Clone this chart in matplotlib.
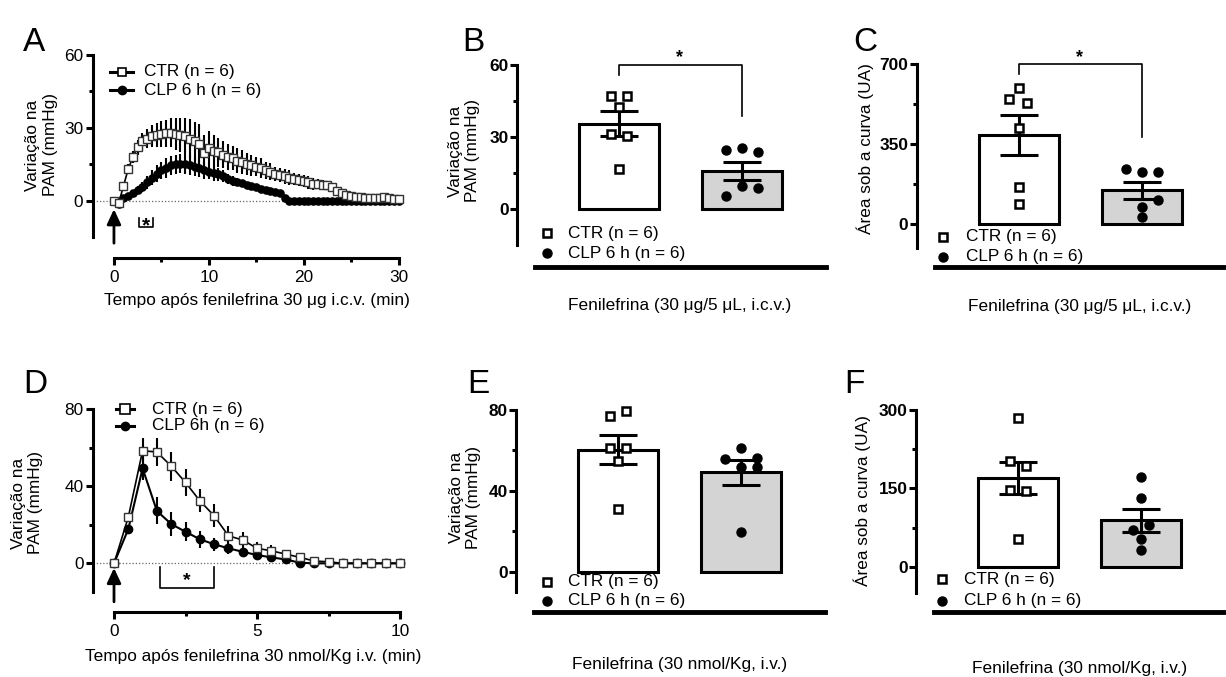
import numpy as np
import matplotlib
matplotlib.use("Agg")
import matplotlib.pyplot as plt
from matplotlib.lines import Line2D
from matplotlib.ticker import FixedLocator

W, H = 1226, 677

# ---- A: PAM change after fenilefrina 30 ug i.c.v. (sampled every 0.5 min)
time_a = np.arange(0, 30.5, 0.5)
ctr_a = [0, -1, 6, 13, 18, 22, 24.5, 25.5, 26.5, 27,
         27.5, 27.8, 28, 27.5, 27, 26.5, 25.5, 24.5, 23.5, 19.5,
         21.5, 20.5, 20, 19, 18, 17.5, 16.5, 16, 15, 14.5,
         14, 13.5, 12.5, 12, 11, 10.5, 10, 9.5, 9, 8.5,
         8, 7.5, 7, 7, 6.5, 6.5, 5.5, 4, 3, 2.5,
         2, 1.5, 1.5, 1, 1, 1, 1, 1.5, 1, 0.5, 0.5]
ctr_a_sem = [0, 0.5, 1, 2, 2.5, 3, 3.5, 4, 4.5, 5,
             5.5, 5.5, 6, 6.5, 7, 7.5, 8, 8, 8, 7.5,
             7, 6.5, 6, 5.5, 5.5, 5, 5, 5, 4.5, 4.5,
             4, 4, 3.5, 3.5, 3, 3, 3, 3, 2.5, 2.5,
             2.5, 2.5, 2.5, 2, 2, 1.5, 1, 1, 0.5, 0.5,
             0.5, 0.5, 0.5, 0.5, 0.5, 0.5, 0.5, 0.5, 0.5, 0.5, 0.5]
clp_a = [0, -1.5, 1, 2, 3, 4.5, 5.5, 7.5, 9.5, 11,
         12.5, 13.5, 14.5, 15, 15.3, 15, 14.7, 14, 13.3, 12.5,
         12, 11.3, 10.8, 10, 8.8, 8.2, 7.8, 7.2, 6.5, 6,
         5.5, 5, 4.5, 4, 3.5, 3, 1, 0, 0, 0,
         0, 0, 0, 0, 0, 0, 0, 0, 0, 0,
         0, 0, 0, 0, 0, 0, 0, 0, 0, 0, 0]
clp_a_sem = [0, 0.5, 0.5, 1, 1, 1.5, 2, 2.5, 3, 3.5,
             3.5, 4, 4, 4, 4, 4, 4, 4, 3.5, 3.5,
             3, 3, 2.5, 2.5, 2, 2, 1.5, 1.5, 1, 1,
             0.5, 0.5, 0.5, 0.5, 0.5, 0.5, 0, 0, 0, 0,
             0, 0, 0, 0, 0, 0, 0, 0, 0, 0,
             0, 0, 0, 0, 0, 0, 0, 0, 0, 0, 0]

# ---- D: PAM change after fenilefrina 30 nmol/Kg i.v.
time_d = np.arange(0, 10.5, 0.5)
ctr_d = [0, 24, 58.5, 57.8, 50.5, 42, 32.5, 24.7, 14.3, 12.1, 7.8,
         6.5, 4.8, 3.1, 1.2, 0.8, 0, 0, 0, 0, 0]
ctr_d_sem = [0, 1, 6.5, 7.5, 7.5, 7, 6, 6, 5, 4, 3.5,
             3, 2, 1.5, 1, 0.5, 0.5, 0.5, 0.5, 0.5, 0.5]
clp_d = [0, 17.8, 49.3, 27.2, 20.4, 16.4, 12.5, 9.9, 7.8, 6, 4.3,
         3.1, 2, 0.3, 0, 0, 0, 0, 0, 0, 0]
clp_d_sem = [0, 1, 6, 7, 6, 5, 4.5, 3.5, 3, 2, 1.5,
             1, 1, 0.5, 0.5, 0, 0, 0, 0, 0, 0]

legend_a = ["CTR (n = 6)", "CLP 6 h (n = 6)"]
legend_d = ["CTR (n = 6)", "CLP 6h (n = 6)"]
legend_bar = ["CTR (n = 6)", "CLP 6 h (n = 6)"]

# ---- bar panels: individual animals, bar height (mean) and SEM
b_ctr = [47.2, 47.2, 42.5, 31.2, 30.3, 16.8]
b_clp = [24.7, 25.7, 24.0, 5.7, 9.8, 9.0]
b_mean = [35.5, 16.0]
b_sem = [5.2, 3.7]

c_ctr = [594, 550, 532, 421, 163, 87.5]
c_clp = [240.6, 226, 226, 105, 76, 32]
c_mean = [390, 148]
c_sem = [88, 38]

e_ctr = [79.7, 77.1, 61.1, 61.1, 55, 30.9]
e_clp = [61.4, 55.8, 56.1, 52, 52, 19.5]
e_mean = [60.3, 49.3]
e_sem = [7.2, 6.2]

f_ctr = [284, 203, 193.5, 147, 145.6, 52.5]
f_clp = [172.4, 131, 80, 70, 52.5, 32]
f_mean = [170, 89]
f_sem = [31, 22]

# horizontal scatter offsets (pixels) of the dots inside each bar
b_off = ([-8, 8, 0, -8, 8, 0], [-16, 0, 16, -16, 0, 16])
c_off = ([0, -10, 8, 0, 0, 0], [-16, 0, 16, 16, 0, 0])
e_off = ([8, -8, -8, 8, 0, 0], [0, -16, 16, 0, 16, 0])
f_off = ([0, -8, 8, -8, 8, 0], [0, 0, 8, -8, 0, 0])

plt.rcParams["font.family"] = ["Liberation Sans", "DejaVu Sans"]
plt.rcParams["font.size"] = 12.4

fig = plt.figure(figsize=(W / 100, H / 100), dpi=100)
PT = 100 / 72  # pixels per point


def fx(x):
    return x / W


def fy(y):
    return 1 - y / H


def px_axes(left, top, right, bottom):
    return fig.add_axes([fx(left), fy(bottom), (right - left) / W, (bottom - top) / H])


def base_style(ax, out_px, xbounds, bottom_lw=2.2):
    ax.spines["top"].set_visible(False)
    ax.spines["right"].set_visible(False)
    ax.spines["left"].set_linewidth(2.2)
    ax.spines["bottom"].set_linewidth(bottom_lw)
    ax.spines["bottom"].set_position(("outward", out_px / PT))
    ax.spines["bottom"].set_bounds(*xbounds)
    ax.tick_params(which="major", length=5, width=2.2, direction="out")
    ax.tick_params(which="minor", length=3, width=2.2, direction="out")
    ax.patch.set_alpha(0)


def place_labels(ax, xl, yl):
    ax.xaxis.set_label_coords(fx(xl[0]), fy(xl[1]), transform=fig.transFigure)
    ax.xaxis.label.set_va("center")
    ax.yaxis.set_label_coords(fx(yl[0]), fy(yl[1]), transform=fig.transFigure)
    ax.yaxis.label.set_va("center")


def line_key(x0, x1, xt, ys, labels, ms_sq, ms_ci):
    styles = [dict(marker="s", mfc="white", mec="k", ms=ms_sq, mew=1.2),
              dict(marker="o", mfc="k", mec="k", ms=ms_ci)]
    for y, lab, st in zip(ys, labels, styles):
        fig.add_artist(Line2D([fx(x0), fx(x1)], [fy(y), fy(y)], color="k", lw=2.2,
                              transform=fig.transFigure))
        fig.add_artist(Line2D([fx((x0 + x1) / 2)], [fy(y)], ls="none",
                              transform=fig.transFigure, **st))
        fig.text(fx(xt), fy(y), lab, va="center", ha="left")


def dot_key(xm, xt, ys, labels):
    styles = [dict(marker="s", mfc="white", mec="k", ms=6, mew=1.8),
              dict(marker="o", mfc="k", mec="k", ms=6.5)]
    for y, lab, st in zip(ys, labels, styles):
        fig.add_artist(Line2D([fx(xm)], [fy(y)], ls="none",
                              transform=fig.transFigure, **st))
        fig.text(fx(xt), fy(y), lab, va="center", ha="left")


def time_panel(ax, t, ctr, ctr_sem, clp, clp_sem, ms_sq, ms_ci):
    ax.axhline(0, color="0.4", lw=0.9, ls=(0, (1, 1.6)), zorder=1)
    ax.errorbar(t, clp, yerr=clp_sem, fmt="-o", color="k", ms=ms_ci, lw=1.5,
                elinewidth=1.5, capsize=0, zorder=3, clip_on=False)
    ax.errorbar(t, ctr, yerr=ctr_sem, fmt="-s", color="k", mfc="white",
                mec="0.2", ms=ms_sq, mew=1.0, lw=1.2, elinewidth=1.5,
                capsize=0, zorder=4, clip_on=False)


def arrow(ax, x, y0, y1):
    ax.annotate("", xy=(x, y1), xytext=(x, y0), annotation_clip=False,
                arrowprops=dict(arrowstyle="-|>,head_length=0.75,head_width=0.35",
                                mutation_scale=12, lw=2, color="k",
                                shrinkA=0, shrinkB=0))


def bracket(ax, x0, x1, ytop, ybot):
    ax.plot([x0, x0, x1, x1], [ytop, ybot, ybot, ytop], color="k", lw=1.2,
            clip_on=False, zorder=5)


# ================= A =================
ax = px_axes(93, 55, 398.5, 237.1)
ax.set_xlim(-2.21, 30)
ax.set_ylim(-15, 60)
base_style(ax, 21, (0, 30))
time_panel(ax, time_a, ctr_a, ctr_a_sem, clp_a, clp_a_sem, 5.2, 5.2)
ax.set_xticks([0, 10, 20, 30])
ax.xaxis.set_minor_locator(FixedLocator([5, 15, 25]))
ax.set_yticks([0, 30, 60])
ax.yaxis.set_minor_locator(FixedLocator([15, 45]))
ax.tick_params(axis="y", which="major", pad=2)
ax.tick_params(axis="x", which="major", pad=3.5)
arrow(ax, 0, -17.5, -3.5)
bracket(ax, 2.67, 4.08, -7.2, -11)
ax.text(3.35, -12.8, "*", ha="center", va="baseline", fontsize=15, fontweight="bold")
ax.set_xlabel("Tempo após fenilefrina 30 μg i.c.v. (min)")
ax.set_ylabel("Variação na\nPAM (mmHg)")
place_labels(ax, (257, 300), (41.5, 145))
line_key(110, 133, 144, [71.7, 90], legend_a, 6, 6)

# ================= D =================
ax = px_axes(93.3, 409.3, 400, 592.2)
ax.set_xlim(-0.724, 10)
ax.set_ylim(-15, 80)
base_style(ax, 19.5, (0, 10))
time_panel(ax, time_d, ctr_d, ctr_d_sem, clp_d, clp_d_sem, 6, 6)
ax.set_xticks([0, 5, 10])
ax.xaxis.set_minor_locator(FixedLocator([2.5, 7.5]))
ax.set_yticks([0, 40, 80])
ax.yaxis.set_minor_locator(FixedLocator([20, 60]))
ax.tick_params(axis="y", which="major", pad=2)
ax.tick_params(axis="x", which="major", pad=4)
arrow(ax, 0, -20, -2.4)
bracket(ax, 1.6, 3.5, -1.8, -13)
ax.text(2.54, -11.3, "*", ha="center", va="baseline", fontsize=14, fontweight="bold")
ax.set_xlabel("Tempo após fenilefrina 30 nmol/Kg i.v. (min)")
ax.set_ylabel("Variação na\nPAM (mmHg)")
place_labels(ax, (253, 657), (27, 503))
line_key(116, 134, 151.7, [409.2, 425.8], legend_d, 6.5, 6)


# ================= bar panels =================
def bar_panel(box, ylim, yticks, yminor, ctr, clp, mean, sem, offs, out):
    ax = px_axes(*box)
    ax.set_xlim(-0.83, 1.68)
    ax.set_ylim(*ylim)
    base_style(ax, out, (-0.68, 1.68), bottom_lw=3.5)
    ax.bar([0, 1], mean, width=0.65, color=["white", "#d4d4d4"],
           edgecolor="k", linewidth=2.2, zorder=2)
    ax.errorbar([0, 1], mean, yerr=sem, fmt="none", ecolor="k",
                elinewidth=2.2, capsize=14, capthick=2.2, zorder=3)
    ax.plot(np.array(offs[0]) / 123, ctr, ls="none", marker="s", mfc="white",
            mec="k", ms=6, mew=1.8, zorder=4, clip_on=False)
    ax.plot(1 + np.array(offs[1]) / 123, clp, ls="none", marker="o", mfc="k",
            mec="k", ms=6.5, zorder=4, clip_on=False)
    ax.set_yticks(yticks)
    ax.yaxis.set_minor_locator(FixedLocator(yminor))
    ax.tick_params(axis="x", length=0, labelbottom=False)
    ax.tick_params(axis="y", which="major", pad=1)
    for lab in ax.get_yticklabels():
        lab.set_fontweight("bold")
    return ax


# B
ax = bar_panel((517, 65, 825.7, 245.4), (-15, 60), [0, 30, 60], [15, 45],
               b_ctr, b_clp, b_mean, b_sem, b_off, 21.5)
ax.plot([0, 0, 1, 1], [55.7, 60, 60, 38.6], color="k", lw=1.2, clip_on=False)
ax.text(0.49, 61.4, "*", ha="center", va="baseline", fontsize=13, fontweight="bold")
ax.set_xlabel("Fenilefrina (30 μg/5 μL, i.c.v.)")
ax.set_ylabel("Variação na\nPAM (mmHg)")
place_labels(ax, (680, 305.5), (464, 151))
dot_key(546.7, 568, [233.3, 253.3], legend_bar)

# C
ax = bar_panel((916.7, 64.3, 1225.4, 248), (-105, 700), [0, 350, 700], [175, 525],
               c_ctr, c_clp, c_mean, c_sem, c_off, 19)
ax.plot([0, 0, 1, 1], [656, 700, 700, 382], color="k", lw=1.2, clip_on=False)
ax.text(0.49, 711, "*", ha="center", va="baseline", fontsize=13, fontweight="bold")
ax.set_xlabel("Fenilefrina (30 μg/5 μL, i.c.v.)")
ax.set_ylabel("Área sob a curva (UA)")
place_labels(ax, (1080, 306.7), (865, 149))
dot_key(942.7, 965.7, [236.7, 256.7], legend_bar)

# E
ax = bar_panel((516, 410, 824.7, 591.9), (-10, 80), [0, 40, 80], [20, 60],
               e_ctr, e_clp, e_mean, e_sem, e_off, 19.8)
ax.set_xlabel("Fenilefrina (30 nmol/Kg, i.v.)")
ax.set_ylabel("Variação na\nPAM (mmHg)")
place_labels(ax, (680, 664), (465, 497.5))
dot_key(546.7, 568.3, [581.7, 600.7], legend_bar)

# F
ax = bar_panel((916, 410, 1224.7, 592.8), (-50, 300), [0, 150, 300], [75, 225],
               f_ctr, f_clp, f_mean, f_sem, f_off, 19.5)
ax.set_xlabel("Fenilefrina (30 nmol/Kg, i.v.)")
ax.set_ylabel("Área sob a curva (UA)")
place_labels(ax, (1080, 668), (862, 500.5))
dot_key(941.7, 964.3, [579.3, 600.7], legend_bar)

# panel letters
for letter, x, y in [("A", 23, 51), ("B", 462, 51), ("C", 853, 51),
                     ("D", 23, 393), ("E", 467, 393), ("F", 844, 393)]:
    fig.text(fx(x), fy(y), letter, fontsize=24, ha="left", va="baseline")

fig.savefig("out.png", dpi=100)
